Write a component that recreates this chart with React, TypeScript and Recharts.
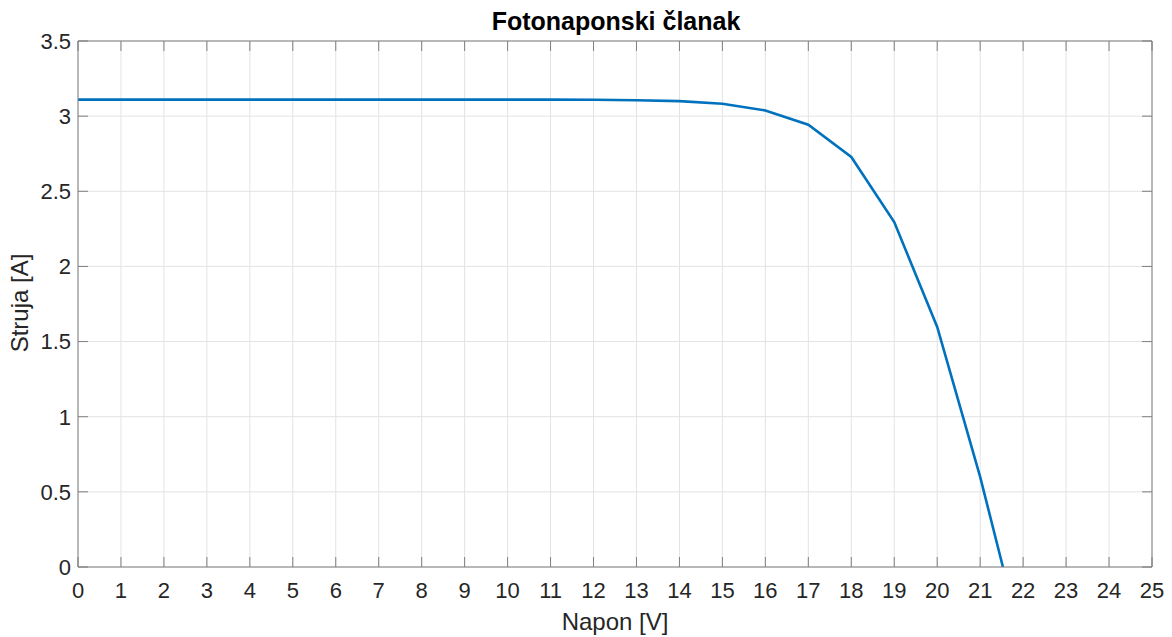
import React from 'react';
import { LineChart, Line, XAxis, YAxis, CartesianGrid } from 'recharts';

const voltage = [0, 1, 2, 3, 4, 5, 6, 7, 8, 9, 10, 11, 12, 13, 14, 15, 16, 17, 18, 19, 20, 21, 21.53];
const current = [3.11, 3.11, 3.11, 3.11, 3.11, 3.11, 3.11, 3.11, 3.11, 3.11, 3.11, 3.11, 3.109, 3.106, 3.1, 3.083, 3.038, 2.943, 2.728, 2.295, 1.597, 0.6, 0];
const xTicks = [0, 1, 2, 3, 4, 5, 6, 7, 8, 9, 10, 11, 12, 13, 14, 15, 16, 17, 18, 19, 20, 21, 22, 23, 24, 25];
const yTicks = [0, 0.5, 1, 1.5, 2, 2.5, 3, 3.5];

const title = 'Fotonaponski članak';
const xLabel = 'Napon [V]';
const yLabel = 'Struja [A]';

const data = voltage.map((v, k) => ({ v, i: current[k] }));

const FONT = '"Liberation Sans", Arial, Helvetica, sans-serif';
const AXIS = '#7f7f7f';
const TEXT = '#262626';

export default function App() {
  const tickStyle = { fill: TEXT, fontSize: 22, fontFamily: FONT };
  return (
    <div style={{ position: 'absolute', left: 0, top: 0, width: 1172, height: 637, background: '#fff' }}>
      <LineChart width={1172} height={637} data={data} margin={{ top: 11, right: 0, bottom: 0, left: 0 }}>
        <CartesianGrid stroke="#e3e3e3" strokeWidth={1} />
        <XAxis
          dataKey="v"
          type="number"
          domain={[0, 25]}
          ticks={xTicks}
          interval={0}
          height={70}
          tickSize={-10}
          tickMargin={25}
          tick={tickStyle}
          stroke={AXIS}
          allowDataOverflow
        />
        <XAxis
          xAxisId="top"
          orientation="top"
          dataKey="v"
          type="number"
          domain={[0, 25]}
          ticks={xTicks}
          interval={0}
          height={30}
          tickSize={-10}
          tickFormatter={() => ''}
          stroke={AXIS}
          allowDataOverflow
        />
        <YAxis
          type="number"
          domain={[0, 3.5]}
          ticks={yTicks}
          interval={0}
          width={78}
          tickSize={-10}
          tickMargin={17}
          tick={tickStyle}
          stroke={AXIS}
          allowDataOverflow
        />
        <YAxis
          yAxisId="right"
          orientation="right"
          type="number"
          domain={[0, 3.5]}
          ticks={yTicks}
          interval={0}
          width={20}
          tickSize={-10}
          tickFormatter={() => ''}
          stroke={AXIS}
          allowDataOverflow
        />
        <Line
          dataKey="i"
          type="linear"
          stroke="#0072BD"
          strokeWidth={2.6}
          dot={false}
          activeDot={false}
          isAnimationActive={false}
        />
      </LineChart>
      <svg width={1172} height={637} style={{ position: 'absolute', left: 0, top: 0, pointerEvents: 'none' }}>
        <text x={616} y={30} textAnchor="middle" fontFamily={FONT} fontWeight="bold" fontSize={25} fill="#000">
          {title}
        </text>
        <text x={615} y={630} textAnchor="middle" fontFamily={FONT} fontSize={24} fill={TEXT}>
          {xLabel}
        </text>
        <text x={0} y={0} transform="translate(28,303) rotate(-90)" textAnchor="middle" fontFamily={FONT} fontSize={24} fill={TEXT}>
          {yLabel}
        </text>
      </svg>
    </div>
  );
}
